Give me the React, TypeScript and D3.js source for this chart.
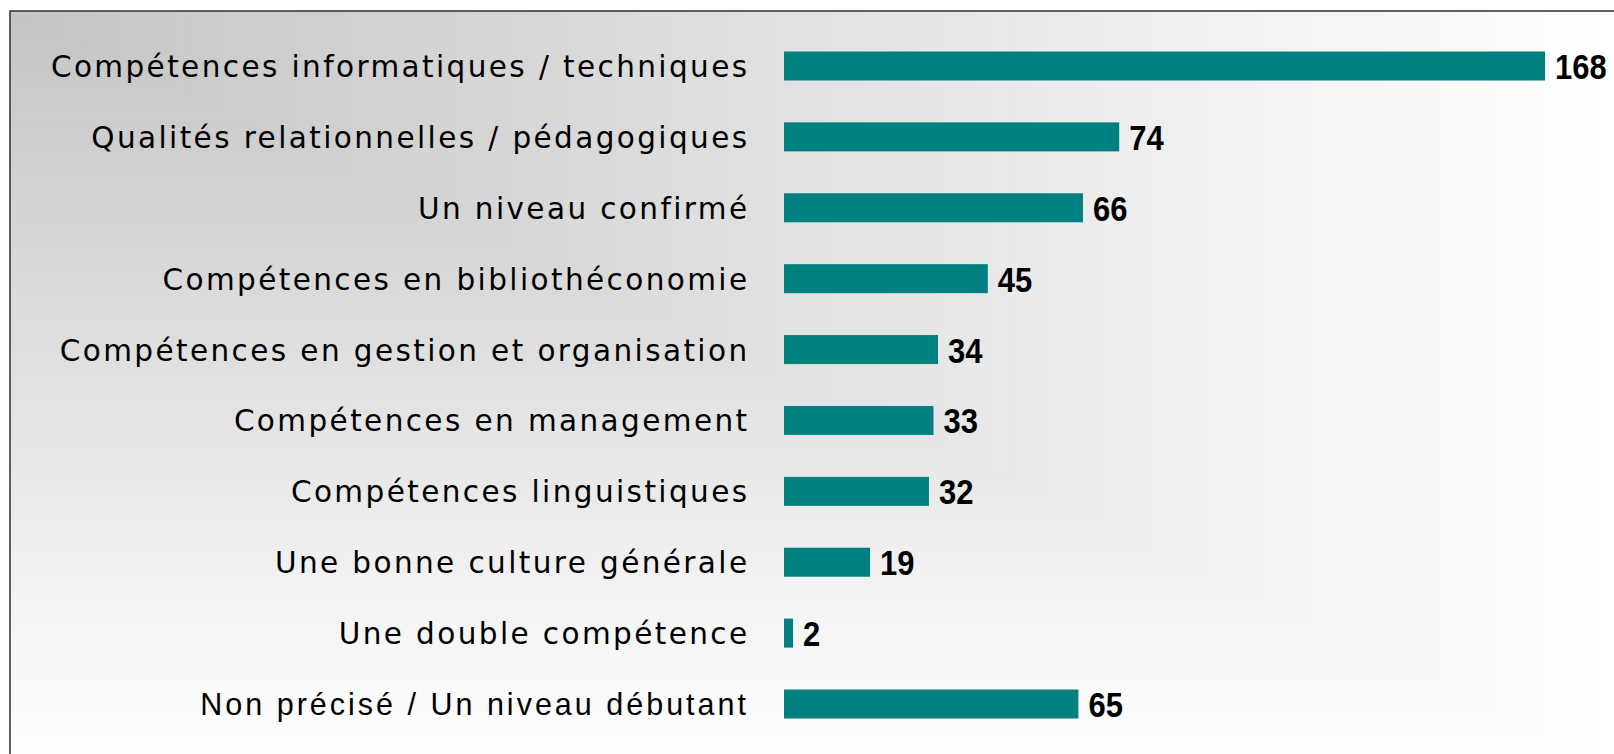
import React, { useRef, useEffect } from 'react';
import * as d3 from 'd3';

const categories = [
  'Compétences informatiques / techniques',
  'Qualités relationnelles / pédagogiques',
  'Un niveau confirmé',
  'Compétences en bibliothéconomie',
  'Compétences en gestion et organisation',
  'Compétences en management',
  'Compétences linguistiques',
  'Une bonne culture générale',
  'Une double compétence',
  'Non précisé / Un niveau débutant',
];
const values = [168, 74, 66, 45, 34, 33, 32, 19, 2, 65];

const App: React.FC = () => {
  const ref = useRef<SVGSVGElement | null>(null);

  useEffect(() => {
    if (!ref.current) return;
    const width = 1614;
    const height = 754;
    const svg = d3.select(ref.current);
    svg.attr('width', width).attr('height', height);
    svg.selectAll('*').remove();

    // rectangular "from corner" gradient: grey top-left, white towards the far edges
    const fx = 10, fy = 11, fw = 1604, fh = 752;
    const nBands = 90;
    const shade = d3.interpolateRgb('#c4c4c4', '#ffffff');
    const bands = d3.range(nBands, 0, -1).map(i => i / nBands);
    svg.append('g')
      .selectAll('rect')
      .data(bands)
      .enter()
      .append('rect')
      .attr('x', fx)
      .attr('y', fy)
      .attr('width', t => fw * t)
      .attr('height', t => fh * t)
      .attr('fill', t => shade(t));

    svg.append('rect')
      .attr('x', fx).attr('y', fy)
      .attr('width', width + 20).attr('height', height + 20)
      .attr('fill', 'none')
      .attr('stroke', '#3a3a3a')
      .attr('stroke-width', 1.6);

    const x = d3.scaleLinear().domain([0, 168]).range([784, 1545]);
    const y = d3.scalePoint<string>().domain(categories).range([66, 704]);
    const barH = 29;

    const rows = svg.selectAll('.row')
      .data(categories)
      .enter()
      .append('g')
      .attr('class', 'row');

    rows.append('rect')
      .attr('x', x(0))
      .attr('y', d => (y(d) as number) - barH / 2)
      .attr('width', (d, i) => x(values[i]) - x(0))
      .attr('height', barH)
      .attr('fill', '#008080');

    rows.append('text')
      .attr('transform', (d, i) => `translate(${x(values[i]) + 10},${(y(d) as number) + 13}) scale(1,1.15)`)
      .attr('font-family', 'Liberation Sans, Arial, sans-serif')
      .attr('font-weight', 'bold')
      .attr('font-size', 31)
      .attr('fill', '#000')
      .text((d, i) => values[i]);

    const last = categories.length - 1;
    rows.append('text')
      .attr('x', (d, i) => i === last ? 749 : 749.5)
      .attr('y', d => (y(d) as number) + 11)
      .attr('text-anchor', 'end')
      .attr('font-family', (d, i) => i === last
        ? 'Liberation Sans, Arial, sans-serif'
        : 'DejaVu Sans, Verdana, sans-serif')
      .attr('font-size', (d, i) => i === last ? 30.5 : 29.5)
      .attr('letter-spacing', (d, i) => i === last ? 3 : 2.4)
      .attr('fill', '#000')
      .text(d => d);
  }, []);

  return <svg ref={ref} style={{ position: 'fixed', left: 0, top: 0 }}></svg>;
};

export default App;
